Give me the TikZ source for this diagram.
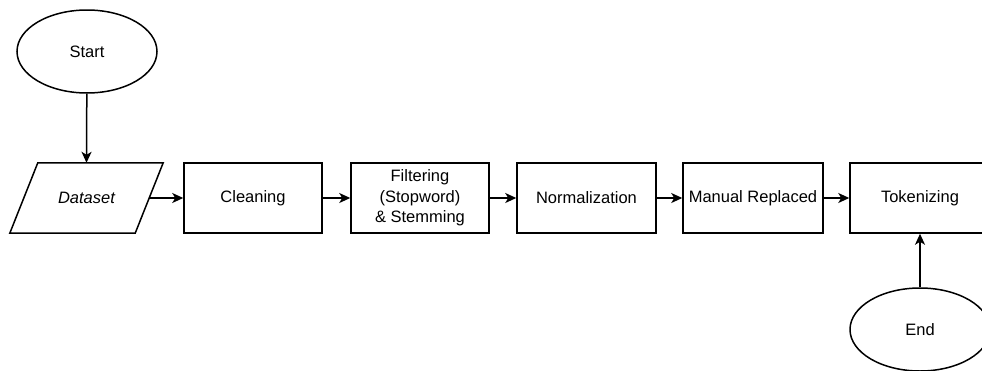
\documentclass[tikz,border=0pt]{standalone}
\usepackage{fontspec}
\setmainfont{Liberation Sans}
\usetikzlibrary{shapes.geometric,arrows.meta}
\begin{document}
\begin{tikzpicture}[x=1pt,y=-1pt,
  base/.style={font=\fontsize{16.5}{20.5}\selectfont, inner sep=0pt, align=center},
  procbox/.style={base, draw, line width=1.5pt, minimum height=70pt},
  term/.style={base, draw, ellipse, line width=1.5pt, minimum width=140pt, minimum height=83pt},
  link/.style={line width=1.5pt, -{Stealth[length=11pt,width=10pt,inset=3pt]}}]
\useasboundingbox (0,0) rectangle (982,370);
\node[term] (start) at (87,51.5) {Start};
\node[base, minimum width=125pt, minimum height=70pt] (data) at (86.5,198) {\itshape Dataset};
\draw[line width=1.5pt] ([xshift=14pt]data.north west) -- ([xshift=14pt]data.north east)
  -- ([xshift=-14pt]data.south east) -- ([xshift=-14pt]data.south west) -- cycle;
\node[procbox, minimum width=138pt] (clean) at (253,198) {Cleaning};
\node[procbox, minimum width=138pt] (filter) at (420,198) {Filtering\\(Stopword)\\\& Stemming};
\node[procbox, minimum width=139pt] (norm) at (586.5,198) {Normalization};
\node[procbox, minimum width=140pt] (manual) at (753,198) {Manual Replaced};
\node[procbox, minimum width=140pt] (token) at (920,198) {Tokenizing};
\node[term] (end) at (920,329.5) {End};
\draw[link] (start) -- (data.north);
\draw[link] (data.east) -- (clean);
\draw[link] (clean) -- (filter);
\draw[link] (filter) -- (norm);
\draw[link] (norm) -- (manual);
\draw[link] (manual) -- (token);
\draw[link] (end) -- (token);
\end{tikzpicture}
\end{document}
